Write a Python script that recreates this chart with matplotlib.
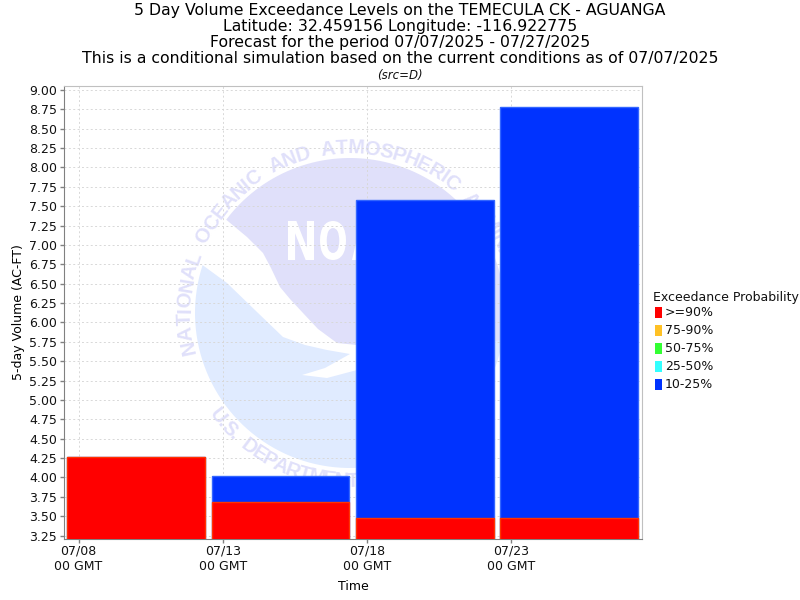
#Recreate the 5 day volume exceedance chart
import numpy as np
import pandas as pd
import matplotlib
matplotlib.use('Agg')
import matplotlib.pyplot as plt
import matplotlib.dates as mdates
from matplotlib.patches import Polygon, PathPatch, Rectangle
from matplotlib.textpath import TextPath
from matplotlib.font_manager import FontProperties
from matplotlib.transforms import Affine2D

#Chart data
title_lines = ['5 Day Volume Exceedance Levels on the TEMECULA CK - AGUANGA',
               'Latitude: 32.459156 Longitude: -116.922775',
               'Forecast for the period 07/07/2025 - 07/27/2025',
               'This is a conditional simulation based on the current conditions as of 07/07/2025']
bar_centers = ['2025-07-10', '2025-07-15', '2025-07-20', '2025-07-25']
red_tops = [4.26, 3.68, 3.47, 3.47]
blue_tops = [4.26, 4.02, 7.58, 8.78]
tick_dates = ['2025-07-08', '2025-07-13', '2025-07-18', '2025-07-23']
legend_labels = ['>=90%', '75-90%', '50-75%', '25-50%', '10-25%']
legend_colors = ['#FF0000', '#FFC125', '#33FF33', '#33FFFF', '#0033FF']
y_ticks = np.arange(3.25, 9.01, 0.25)

#Figure size and axes box in pixels
fig_w, fig_h = 800, 600
ax_left, ax_right, ax_top, ax_bottom = 63.5, 642, 86, 539
fig = plt.figure(figsize=(8, 6), dpi=100, facecolor='white')

#Background axes in pixel coordinates for the watermark and legend
bg = fig.add_axes([0, 0, 1, 1], zorder=0)
bg.set_xlim(0, fig_w)
bg.set_ylim(fig_h, 0)
bg.axis('off')

lavender = '#E0E0FA'
light_blue = '#E0EBFF'
cx, cy, radius = 350, 313, 155


def arc(start, end, n=80):
    #Compass angles, clockwise from the top of the circle
    ang = np.radians(np.linspace(start, end, n))
    return np.column_stack([cx + radius * np.sin(ang), cy - radius * np.cos(ang)])


upper_edge = [(500, 345), (420, 345), (357, 345), (337, 343), (318, 329), (303, 313),
              (290, 299), (280, 287), (271, 268), (263, 253), (247, 237)]
upper = np.vstack([arc(-53, 100), upper_edge])
bg.add_patch(Polygon(upper, closed=True, facecolor=lavender, edgecolor='none'))

lower_edge = [(227, 283), (257, 312), (283, 337), (305, 345), (327, 350), (350, 354),
              (325, 368), (302, 375), (327, 378), (357, 370), (420, 350)]
lower = np.vstack([arc(100, 288, 80), lower_edge])
bg.add_patch(Polygon(lower, closed=True, facecolor=light_blue, edgecolor='none'))

#White NOAA letters inside the logo, each one squeezed into the same box
noaa_font = FontProperties(family='DejaVu Sans', weight='bold')
for i, ch in enumerate('NOAA'):
    letter = TextPath((0, 0), ch, size=10, prop=noaa_font)
    box = letter.get_extents()
    to_px = (Affine2D().translate(-box.x0, -box.y0)
             .scale(26 / box.width, -39 / box.height).translate(288 + 32 * i, 260))
    bg.add_patch(PathPatch(letter, transform=to_px + bg.transData, facecolor='white', edgecolor='none'))

ring_font = FontProperties(family='Liberation Sans', weight='bold')


def ring_text(text, start, end, r, bottom=False):
    #One letter at a time round the circle, spaced by letter width
    widths = []
    for ch in text:
        check = 'n' if ch == ' ' else ch
        widths.append(TextPath((0, 0), check, size=10, prop=ring_font).get_extents().width + 1.5)
    widths = np.array(widths)
    mids = np.cumsum(widths) - widths / 2
    mids = (mids - mids[0]) / (mids[-1] - mids[0])
    for ch, frac in zip(text, mids):
        a = start + (end - start) * frac
        ang = np.radians(a)
        x = cx + r * np.sin(ang)
        if bottom:
            y = cy + r * np.cos(ang)
            rot = a
        else:
            y = cy - r * np.cos(ang)
            rot = -a
        bg.text(x, y, ch, rotation=rot, rotation_mode='anchor', ha='center', va='center',
                fontproperties=ring_font, fontsize=14.5, color=lavender)


ring_text('NATIONAL OCEANIC AND ATMOSPHERIC ADMINISTRATION', -102, 102, 165)
ring_text('U.S. DEPARTMENT OF COMMERCE', -52, 52, 168, bottom=True)

#Main chart
ax = fig.add_axes([ax_left / fig_w, 1 - ax_bottom / fig_h,
                   (ax_right - ax_left) / fig_w, (ax_bottom - ax_top) / fig_h], zorder=1)
ax.patch.set_alpha(0)

centers = mdates.date2num(pd.to_datetime(bar_centers))
ticks = mdates.date2num(pd.to_datetime(tick_dates))
bar_width = 4.78

ax.bar(centers, blue_tops, width=bar_width, color='#0033FF', edgecolor='#3366FF', linewidth=1, zorder=3)
ax.bar(centers, red_tops, width=bar_width, color='#FF0000', edgecolor='#FF3300', linewidth=1, zorder=4)

ax.set_xlim(ticks[0] - 0.52, ticks[0] + 19.53)
ax.set_ylim(3.205, 9.05)
ax.set_yticks(y_ticks)
ax.set_yticklabels([f'{v:.2f}' for v in y_ticks])
ax.set_xticks(ticks)
ax.set_xticklabels([mdates.num2date(t).strftime('%m/%d') + '\n00 GMT' for t in ticks])
ax.tick_params(axis='both', labelsize=9, color='#808080', length=3, width=1, labelcolor='#111111', pad=1.5)
ax.tick_params(axis='x', pad=1)
ax.grid(True, linestyle=(0, (2, 2.5)), color='#D8D8D8', linewidth=0.7, zorder=1)
ax.set_axisbelow(True)

for side in ['left', 'bottom']:
    ax.spines[side].set_color('#808080')
for side in ['top', 'right']:
    ax.spines[side].set_color('#C0C0C0')

#Titles and axis labels
title_y = [10, 26, 43, 59]
for line, y in zip(title_lines, title_y):
    fig.text(0.5, 1 - y / fig_h, line, ha='center', va='center', fontsize=11.35, color='black')
fig.text(0.5, 1 - 75 / fig_h, '(src=D)', ha='center', va='center', fontsize=8.5, style='italic', color='#111111')
fig.text(19 / fig_w, 1 - 312 / fig_h, '5-day Volume (AC-FT)', rotation=90, ha='center', va='center', fontsize=9)
fig.text(353 / fig_w, 1 - 586 / fig_h, 'Time', ha='center', va='center', fontsize=9)

#Legend on the right
bg.text(653, 297, 'Exceedance Probability', ha='left', va='center', fontsize=9, color='#111111')
for i, (label, color) in enumerate(zip(legend_labels, legend_colors)):
    row_y = 313 + 18 * i
    bg.add_patch(Rectangle((655, row_y - 6), 7, 11, facecolor=color, edgecolor='none'))
    bg.text(665, row_y, label, ha='left', va='center', fontsize=9, color='#111111')

fig.savefig('out.png', dpi=100)
